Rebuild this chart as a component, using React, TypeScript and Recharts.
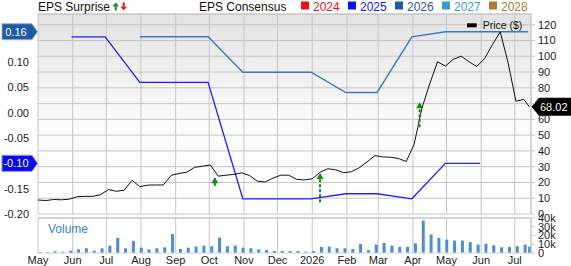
import React from 'react';
import { ComposedChart, Line, Bar, XAxis, YAxis, CartesianGrid, ReferenceLine, ReferenceDot } from 'recharts';

const FONT = '"Liberation Sans", Arial, Helvetica, sans-serif';
const START = Date.parse('2025-05-01');
const dayOf = (s: string) => (Date.parse(s) - START) / 86400000;

// x axis: one tick per month
const monthStarts = [
  '2025-05-01', '2025-06-01', '2025-07-01', '2025-08-01', '2025-09-01', '2025-10-01', '2025-11-01',
  '2025-12-01', '2026-01-01', '2026-02-01', '2026-03-01', '2026-04-01', '2026-05-01', '2026-06-01', '2026-07-01',
];
const monthLabels = ['May', 'Jun', 'Jul', 'Aug', 'Sep', 'Oct', 'Nov', 'Dec', '2026', 'Feb', 'Mar', 'Apr', 'May', 'Jun', 'Jul'];
const monthDays = monthStarts.map(dayOf);
const xEnd = dayOf('2026-07-15') + 0.5;

// weekly closing price ($)
const priceStart = '2025-05-01';
const priceWeekly = [
  8.9, 8.5, 9.2, 9.0, 9.4, 11.0, 11.2, 11.2, 12.3, 15.5, 14.4, 15.1, 21.4, 17.3, 18.3, 18.4,
  18.4, 24.5, 25.7, 26.5, 29.6, 30.3, 31.1, 24.0, 24.6, 25.1, 26.1, 24.4, 20.8, 20.3, 22.8, 24.6,
  24.6, 22.0, 21.6, 22.3, 26.5, 28.7, 28.0, 26.2, 26.8, 29.3, 33.0, 37.0, 36.2, 36.0, 35.2, 33.3,
  44.0, 67.0, 82.5, 96.5, 93.8, 98.0, 100.1, 96.6, 93.5, 98.5, 107.3, 115.5, 96.0, 71.5, 72.7,
];
const lastPriceDate = '2026-07-14';
const lastPrice = 68.02;

// weekly volume (thousands)
const volumeStart = '2025-05-02';
const volumeWeekly = [
  1.1, 0.8, 1.9, 1.5, 2.7, 4.2, 5.4, 2.7, 5.4, 8.4, 17.2, 5.4, 13.8, 6.1, 4.2, 5.4,
  6.5, 21.8, 4.6, 6.1, 7.3, 8.4, 7.7, 17.6, 7.7, 8.4, 6.1, 5.4, 4.2, 3.4, 2.3, 2.3,
  2.3, 2.3, 1.5, 2.3, 6.9, 7.3, 5.4, 5.4, 4.6, 10.3, 3.4, 9.6, 11.5, 8.4, 6.9, 6.9,
  11.1, 37.2, 21.1, 17.2, 15.3, 14.2, 14.2, 12.6, 9.6, 10.7, 8.8, 6.5, 6.9, 7.7, 9.6,
];
const lastVolume = 7.3;

// EPS consensus by fiscal year
const eps2025Dates = ['2025-05-31', '2025-06-30', '2025-07-31', '2025-09-30', '2025-10-31', '2025-12-31', '2026-01-31', '2026-02-28', '2026-03-31', '2026-04-30', '2026-05-31'];
const eps2025Values = [0.15, 0.15, 0.06, 0.06, -0.17, -0.17, -0.16, -0.16, -0.17, -0.1, -0.1];
const eps2026Dates = ['2025-07-31', '2025-09-30', '2025-10-31', '2025-12-31', '2026-01-31', '2026-02-28', '2026-03-31', '2026-04-30', '2026-07-13'];
const eps2026Values = [0.15, 0.15, 0.08, 0.08, 0.04, 0.04, 0.15, 0.16, 0.16];

// surprise arrows, drawn on the price scale
const surpriseDates = ['2025-10-06', '2026-01-08', '2026-04-07'];
const surpriseFrom = [17.8, 7.4, 55];
const surpriseTo = [22.6, 25.4, 70.2];

const epsTicks = [0.1, 0.05, 0, -0.05, -0.15, -0.2];
const priceTicks = [0, 10, 20, 30, 40, 50, 60, 70, 80, 90, 100, 110, 120];
const volTicks = [0, 10000, 20000, 30000, 40000];

const legendYears = ['2024', '2025', '2026', '2027', '2028'];
const legendColors = ['#ee1111', '#1111ff', '#1e5ca8', '#3a9fd0', '#b07a30'];

const priceData = priceWeekly
  .map((p, i) => ({ day: dayOf(priceStart) + 7 * i, price: p }))
  .concat([{ day: dayOf(lastPriceDate), price: lastPrice }]);
const volumeData = volumeWeekly
  .map((v, i) => ({ day: dayOf(volumeStart) + 7 * i, vol: v * 1000 }))
  .concat([{ day: dayOf(lastPriceDate), vol: lastVolume * 1000 }]);
const eps2025Data = eps2025Dates.map((d, i) => ({ day: dayOf(d), eps: eps2025Values[i] }));
const eps2026Data = eps2026Dates.map((d, i) => ({ day: dayOf(d), eps: eps2026Values[i] }));

const EPS_MIN = -0.2;
const EPS_MAX = 0.195;
const PRICE_MAX = 126.8;
const GRID = '#c6c6c6';

function LeftBadge(props: any) {
  const { viewBox, text, fill, edge } = props;
  if (!viewBox) return null;
  const x = viewBox.x;
  const y = viewBox.y;
  const d = `M${x - 36},${y - 8} L${x - 6},${y - 8} L${x - 0.5},${y} L${x - 6},${y + 8} L${x - 36},${y + 8} Z`;
  return (
    <g>
      <path d={d} fill={fill} stroke={edge} strokeWidth={1} />
      <text x={x - 22} y={y + 4} textAnchor="middle" fill="#fff" fontSize={11} fontFamily={FONT}>{text}</text>
    </g>
  );
}

function RightBadge(props: any) {
  const { viewBox, text } = props;
  if (!viewBox) return null;
  const x = viewBox.x + viewBox.width;
  const y = viewBox.y;
  const d = `M${x + 0.5},${y} L${x + 8},${y - 9} L${x + 50},${y - 9} L${x + 50},${y + 9} L${x + 8},${y + 9} Z`;
  return (
    <g>
      <path d={d} fill="#000" />
      <text x={x + 9} y={y + 4} fill="#fff" fontSize={11} fontFamily={FONT}>{text}</text>
    </g>
  );
}

const ArrowHead = (p: any) => (
  <path d={`M${p.cx},${p.cy - 1} L${p.cx - 3.5},${p.cy + 5} L${p.cx + 3.5},${p.cy + 5} Z`} fill="#138a13" />
);

const tickStyle = { fontSize: 11, fill: '#1a1a1a', fontFamily: FONT };

export default function App() {
  return (
    <div style={{ position: 'absolute', left: 0, top: 0, width: 571, height: 266, background: '#fff', fontFamily: FONT }}>
      <div style={{ position: 'absolute', left: 0, top: 0 }}>
        <ComposedChart width={571} height={222} margin={{ top: 14, right: 0, bottom: 8, left: 0 }}>
          <defs>
            <linearGradient id="plotBg" x1="0" y1="0" x2="0" y2="1">
              <stop offset="0%" stopColor="#e3e3e3" />
              <stop offset="55%" stopColor="#fbfbfb" />
              <stop offset="100%" stopColor="#ffffff" />
            </linearGradient>
          </defs>
          <CartesianGrid yAxisId="price" stroke={GRID} fill="url(#plotBg)" fillOpacity={1} />
          <XAxis type="number" dataKey="day" domain={[0, xEnd]} ticks={monthDays} interval={0} hide allowDataOverflow />
          <YAxis
            yAxisId="eps"
            orientation="left"
            width={38}
            domain={[EPS_MIN, EPS_MAX]}
            ticks={epsTicks}
            interval={0}
            allowDataOverflow
            tickFormatter={(v: number) => v.toFixed(2)}
            tick={tickStyle}
            tickLine={false}
            axisLine={false}
            tickSize={5}
            tickMargin={4}
          />
          <YAxis
            yAxisId="price"
            orientation="right"
            width={40}
            domain={[0, PRICE_MAX]}
            ticks={priceTicks}
            interval={0}
            allowDataOverflow
            tick={tickStyle}
            tickLine={{ stroke: GRID }}
            axisLine={{ stroke: GRID }}
            tickSize={4}
            tickMargin={3}
          />
          <ReferenceLine yAxisId="price" y={PRICE_MAX} stroke={GRID} />
          <Line yAxisId="eps" data={eps2025Data} dataKey="eps" stroke="#1f1fff" strokeWidth={1.3} dot={false} isAnimationActive={false} />
          <Line yAxisId="eps" data={eps2026Data} dataKey="eps" stroke="#3d78bf" strokeWidth={1.4} dot={false} isAnimationActive={false} />
          <Line yAxisId="price" data={priceData} dataKey="price" stroke="#111" strokeWidth={1} dot={false} isAnimationActive={false} />
          {surpriseDates.map((d, i) => (
            <ReferenceLine
              key={'s' + i}
              yAxisId="price"
              segment={[{ x: dayOf(d), y: surpriseFrom[i] }, { x: dayOf(d), y: surpriseTo[i] }]}
              stroke="#138a13"
              strokeWidth={2}
              strokeDasharray={surpriseTo[i] - surpriseFrom[i] > 8 ? '3 2' : undefined}
            />
          ))}
          {surpriseDates.map((d, i) => (
            <ReferenceDot key={'h' + i} yAxisId="price" x={dayOf(d)} y={surpriseTo[i]} shape={ArrowHead} />
          ))}
          <ReferenceLine yAxisId="eps" y={0.16} stroke="none" label={<LeftBadge text="0.16" fill="#1d5ba8" edge="#9aaed0" />} />
          <ReferenceLine yAxisId="eps" y={-0.1} stroke="none" label={<LeftBadge text="-0.10" fill="#0a0aee" edge="#8888ff" />} />
          <ReferenceLine yAxisId="price" y={lastPrice} stroke="none" label={<RightBadge text={lastPrice.toFixed(2)} />} />
        </ComposedChart>
      </div>
      {/* the volume panel sits over the lower edge of the price axis */}
      <div style={{ position: 'absolute', left: 531, top: 216.5, width: 40, height: 8, background: '#fff' }} />
      <div style={{ position: 'absolute', left: 0, top: 214 }}>
        <ComposedChart width={571} height={52} data={volumeData} margin={{ top: 4, right: 0, bottom: 0, left: 38 }}>
          <CartesianGrid stroke={GRID} horizontal={false} />
          <XAxis
            type="number"
            dataKey="day"
            domain={[0, xEnd]}
            ticks={monthDays}
            allowDataOverflow
            height={13}
            tickSize={0}
            tickMargin={3}
            tickLine={false}
            axisLine={{ stroke: '#d4d4d4' }}
            tick={tickStyle}
            interval={0}
            tickFormatter={(v: number) => monthLabels[monthDays.indexOf(v)]}
          />
          <YAxis
            yAxisId="vol"
            orientation="right"
            width={40}
            domain={[0, 40000]}
            ticks={volTicks}
            interval={0}
            allowDataOverflow
            tick={tickStyle}
            tickLine={{ stroke: GRID }}
            axisLine={{ stroke: GRID }}
            tickSize={4}
            tickMargin={3}
            tickFormatter={(v: number) => (v === 0 ? '0' : `${v / 1000}k`)}
          />
          <ReferenceLine yAxisId="vol" y={40000} stroke={GRID} strokeWidth={1.5} />
          <Bar yAxisId="vol" dataKey="vol" fill="#4a8fd5" barSize={3} isAnimationActive={false} />
        </ComposedChart>
      </div>
      <svg width={571} height={266} style={{ position: 'absolute', left: 0, top: 0, pointerEvents: 'none' }}>
        <text x={38} y={11} fontSize={12} fill="#111" fontFamily={FONT}>EPS Surprise</text>
        <path d="M115.7,2.5 L112.4,6.5 L119,6.5 Z" fill="#138a13" />
        <rect x={114.7} y={6.5} width={2} height={4} fill="#138a13" />
        <rect x={122.7} y={2.5} width={2} height={4} fill="#ee1111" />
        <path d="M120.4,6.5 L127,6.5 L123.7,10.5 Z" fill="#ee1111" />
        <text x={199} y={11} fontSize={12} fill="#111" fontFamily={FONT}>EPS Consensus</text>
        {legendYears.map((y, i) => (
          <g key={y}>
            <rect x={301 + i * 47} y={1.5} width={8} height={8} fill={legendColors[i]} />
            <text x={313 + i * 47} y={11} fontSize={12} fill={legendColors[i]} fontFamily={FONT}>{y}</text>
          </g>
        ))}
        <rect x={467} y={23.3} width={9.7} height={4} fill="#000" />
        <text x={482.7} y={29} fontSize={10.5} fill="#111" fontFamily={FONT}>Price ($)</text>
        <text x={48} y={233} fontSize={12} fill="#3b82c4" fontFamily={FONT}>Volume</text>
      </svg>
    </div>
  );
}
